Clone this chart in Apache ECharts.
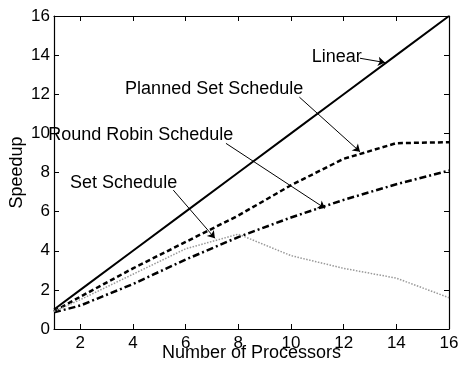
<!DOCTYPE html>
<html>
<head>
<meta charset="utf-8">
<script src="https://cdn.jsdelivr.net/npm/echarts@6/dist/echarts.min.js"></script>
<style>
  html, body { margin: 0; padding: 0; background: #fff; }
  #chart { width: 461px; height: 368px; }
</style>
</head>
<body>
<div id="chart"></div>
<script>
// values
const processors = [1, 2, 4, 6, 8, 10, 12, 14, 16];
const linear = [1, 2, 4, 6, 8, 10, 12, 14, 16];
const plannedSet = [0.9, 1.65, 3.1, 4.45, 5.8, 7.35, 8.7, 9.5, 9.55];
const roundRobin = [0.85, 1.2, 2.3, 3.55, 4.7, 5.7, 6.6, 7.4, 8.1];
const setSchedule = [0.9, 1.5, 2.8, 4.1, 4.85, 3.75, 3.1, 2.6, 1.6];

const xTicks = [2, 4, 6, 8, 10, 12, 14, 16];

// annotation text anchors and arrows, in data units
const noteNames = ['Linear', 'Planned Set Schedule', 'Round Robin Schedule', 'Set Schedule'];
const noteAt = [[10.79, 13.89], [3.7, 12.25], [0.78, 9.92], [1.61, 7.48]];
const arrowFrom = [[12.62, 13.84], [10.32, 11.85], [7.53, 9.49], [5.53, 7.1]];
const arrowTo = [[13.57, 13.62], [12.62, 9.06], [11.29, 6.17], [7.11, 4.64]];

const font = '"Liberation Sans", Arial, Helvetica, sans-serif';

function pairs(ys) {
    return processors.map(function (x, i) { return [x, ys[i]]; });
}

const chart = echarts.init(document.getElementById('chart'));

const axisLine = { show: true, onZero: false, lineStyle: { color: '#000', width: 1.2 } };

chart.setOption({
    animation: false,
    backgroundColor: '#fff',
    grid: { left: 54, right: 12, top: 16, bottom: 39, outerBoundsMode: 'none', containLabel: false },
    xAxis: [
        {
            type: 'value', min: 1, max: 16,
            name: 'Number of Processors', nameLocation: 'middle', nameGap: 15, nameMoveOverlap: false,
            nameTextStyle: { color: '#000', fontSize: 18, fontFamily: font },
            axisLine: axisLine,
            axisTick: { inside: true, length: 5, customValues: xTicks, lineStyle: { color: '#000' } },
            axisLabel: { customValues: xTicks, color: '#000', fontSize: 17, fontFamily: font, margin: 6 },
            splitLine: { show: false }
        },
        {
            type: 'value', min: 1, max: 16, position: 'top',
            axisLine: axisLine,
            axisTick: { inside: true, length: 5, customValues: xTicks, lineStyle: { color: '#000' } },
            axisLabel: { show: false },
            splitLine: { show: false }
        }
    ],
    yAxis: [
        {
            type: 'value', min: 0, max: 16, interval: 2,
            name: 'Speedup', nameLocation: 'middle', nameGap: 28, nameMoveOverlap: false,
            nameTextStyle: { color: '#000', fontSize: 18, fontFamily: font },
            axisLine: axisLine,
            axisTick: { inside: true, length: 5, lineStyle: { color: '#000' } },
            axisLabel: { color: '#000', fontSize: 17, fontFamily: font, margin: 4 },
            splitLine: { show: false }
        },
        {
            type: 'value', min: 0, max: 16, interval: 2, position: 'right',
            axisLine: axisLine,
            axisTick: { inside: true, length: 5, lineStyle: { color: '#000' } },
            axisLabel: { show: false },
            splitLine: { show: false }
        }
    ],
    series: [
        {
            name: 'Linear', type: 'line', data: pairs(linear), symbol: 'none',
            lineStyle: { color: '#000', width: 2 },
            markLine: {
                silent: true,
                symbol: ['none', 'arrow'], symbolSize: 7,
                label: { show: false },
                lineStyle: { color: '#000', width: 1, type: 'solid' },
                data: arrowFrom.map(function (p, i) {
                    return [{ coord: p }, { coord: arrowTo[i] }];
                })
            }
        },
        {
            name: 'Planned Set Schedule', type: 'line', data: pairs(plannedSet), symbol: 'none',
            lineStyle: { color: '#000', width: 2.5, type: [5, 3] }
        },
        {
            name: 'Round Robin Schedule', type: 'line', data: pairs(roundRobin), symbol: 'none',
            lineStyle: { color: '#000', width: 2.5, type: [7, 3, 2, 3] }
        },
        {
            name: 'Set Schedule', type: 'line', data: pairs(setSchedule), symbol: 'none',
            lineStyle: { color: '#999', width: 1.5, type: [1.5, 1.5] }
        }
    ]
});

// place the annotation labels
chart.setOption({
    graphic: noteNames.map(function (t, i) {
        const p = chart.convertToPixel({ xAxisIndex: 0, yAxisIndex: 0 }, noteAt[i]);
        return {
            type: 'text', x: p[0], y: p[1], z: 10,
            style: {
                text: t, fill: '#000', fontSize: 18, fontFamily: font,
                textAlign: 'left', textVerticalAlign: 'middle'
            }
        };
    })
});
</script>
</body>
</html>
